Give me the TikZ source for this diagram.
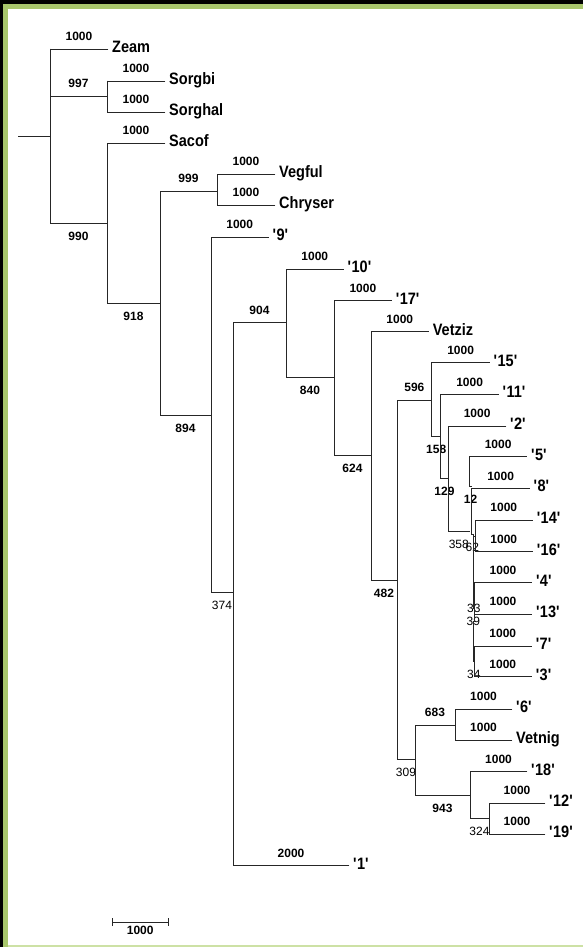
\documentclass[tikz,border=0pt]{standalone}
\usepackage{fontspec}
\usetikzlibrary{arrows.meta}
\newfontfamily\leaffont{Liberation Sans}[FakeStretch=0.88]
\newfontfamily\numfont{Liberation Sans}
\newcommand\qname[1]{\textquotesingle#1\textquotesingle}
\definecolor{framegreen}{RGB}{168,198,108}
\definecolor{lightgreen}{RGB}{205,225,165}
\tikzset{
  br/.style={line width=0.9pt, draw=black!85, line cap=rect},
  leaf/.style={anchor=base west, inner sep=0pt, xshift=4pt, yshift=-3.5pt,
    font=\leaffont\bfseries\fontsize{16.5}{18}\selectfont},
  ab/.style={midway, anchor=base, inner sep=0pt, yshift=8.3pt,
    font=\numfont\bfseries\fontsize{12}{13}\selectfont},
  be/.style={midway, anchor=base, inner sep=0pt, yshift=-17pt,
    font=\numfont\bfseries\fontsize{12}{13}\selectfont},
  bel/.style={be, font=\numfont\fontsize{12}{13}\selectfont},
  abl/.style={ab, font=\numfont\fontsize{12}{13}\selectfont},
}
\begin{document}
\begin{tikzpicture}[x=1pt,y=-1pt]
\useasboundingbox (0,0) rectangle (583,947);
% frame
\fill[white] (0,0) rectangle (583,947);
\fill[black] (0,0) rectangle (583,4);
\fill[black] (0,0) rectangle (3,947);
\fill[framegreen] (3,4) rectangle (583,9);
\fill[framegreen] (3,4) rectangle (8,947);
\fill[lightgreen] (8,945) rectangle (583,947);

% internal nodes (x of node, y of incoming branch)
\coordinate (root) at (18,136);
\coordinate (R) at (50,136);
\coordinate (S) at (107,96);
\coordinate (A990) at (107,223);
\coordinate (A918) at (160,303);
\coordinate (A999) at (217,191);
\coordinate (A894) at (211,415);
\coordinate (A374) at (233,592.7);
\coordinate (A904) at (286,322.7);
\coordinate (A840) at (334,377.7);
\coordinate (A624) at (371,455);
\coordinate (A482) at (397,580);
\coordinate (A596) at (431.7,400);
\coordinate (A158) at (440.7,436);
\coordinate (A129) at (448.3,478.3);
\coordinate (AC) at (469.3,531.7);
\coordinate (AD) at (471.7,486);
\coordinate (AE) at (473,534);
\coordinate (AF) at (475,536);
\coordinate (AG) at (473.5,608);
\coordinate (AH) at (474.2,621);
\coordinate (AI) at (474,661);
\coordinate (A309) at (415,759.3);
\coordinate (A683) at (455,725);
\coordinate (A943) at (470,795);
\coordinate (A324) at (489,818);

% leaf ends
\coordinate (lZeam) at (108,49);
\coordinate (lSorgbi) at (165,81);
\coordinate (lSorghal) at (165,112);
\coordinate (lSacof) at (165,143);
\coordinate (lVegful) at (275,174);
\coordinate (lChryser) at (275,205);
\coordinate (l9) at (268.5,237);
\coordinate (l10) at (343.5,269);
\coordinate (l17) at (391.7,300.7);
\coordinate (lVetziz) at (428.6,331.7);
\coordinate (l15) at (489.5,362.7);
\coordinate (l11) at (498.5,394.3);
\coordinate (l2) at (506,426);
\coordinate (l5) at (526.9,456.7);
\coordinate (l8) at (529.5,488.3);
\coordinate (l14) at (532.6,520);
\coordinate (l16) at (532.6,551.7);
\coordinate (l4) at (531.8,582.7);
\coordinate (l13) at (531.8,614);
\coordinate (l7) at (531.6,646);
\coordinate (l3) at (531.6,676.7);
\coordinate (l6) at (512,709);
\coordinate (lVetnig) at (512,740);
\coordinate (l18) at (527,771.7);
\coordinate (l12) at (545,803);
\coordinate (l19) at (545,834);
\coordinate (l1) at (349,865.7);

% root
\draw[br] (root) -- (R);
\draw[br] (R|-lZeam) -- (R|-A990);
\draw[br] (R|-lZeam) -- node[ab]{1000} (lZeam);
\draw[br] (R|-S) -- node[ab]{997} (S);
\draw[br] (R|-A990) -- node[be]{990} (A990);
% Sorghum
\draw[br] (S|-lSorgbi) -- (S|-lSorghal);
\draw[br] (S|-lSorgbi) -- node[ab]{1000} (lSorgbi);
\draw[br] (S|-lSorghal) -- node[ab]{1000} (lSorghal);
% 990
\draw[br] (A990|-lSacof) -- (A990|-A918);
\draw[br] (A990|-lSacof) -- node[ab]{1000} (lSacof);
\draw[br] (A990|-A918) -- node[be]{918} (A918);
% 918
\draw[br] (A918|-A999) -- (A918|-A894);
\draw[br] (A918|-A999) -- node[ab]{999} (A999);
\draw[br] (A918|-A894) -- node[be]{894} (A894);
% 999
\draw[br] (A999|-lVegful) -- (A999|-lChryser);
\draw[br] (A999|-lVegful) -- node[ab]{1000} (lVegful);
\draw[br] (A999|-lChryser) -- node[ab]{1000} (lChryser);
% 894
\draw[br] (A894|-l9) -- (A894|-A374);
\draw[br] (A894|-l9) -- node[ab]{1000} (l9);
\draw[br] (A894|-A374) -- node[bel]{374} (A374);
% 374
\draw[br] (A374|-A904) -- (A374|-l1);
\draw[br] (A374|-A904) -- node[ab]{904} (A904);
\draw[br] (A374|-l1) -- node[ab]{2000} (l1);
% 904
\draw[br] (A904|-l10) -- (A904|-A840);
\draw[br] (A904|-l10) -- node[ab]{1000} (l10);
\draw[br] (A904|-A840) -- node[be]{840} (A840);
% 840
\draw[br] (A840|-l17) -- (A840|-A624);
\draw[br] (A840|-l17) -- node[ab]{1000} (l17);
\draw[br] (A840|-A624) -- node[be]{624} (A624);
% 624
\draw[br] (A624|-lVetziz) -- (A624|-A482);
\draw[br] (A624|-lVetziz) -- node[ab]{1000} (lVetziz);
\draw[br] (A624|-A482) -- node[be]{482} (A482);
% 482
\draw[br] (A482|-A596) -- (A482|-A309);
\draw[br] (A482|-A596) -- node[ab]{596} (A596);
\draw[br] (A482|-A309) -- node[bel]{309} (A309);
% 596
\draw[br] (A596|-l15) -- (A596|-A158);
\draw[br] (A596|-l15) -- node[ab]{1000} (l15);
\draw[br] (A596|-A158) -- node[be]{158} (A158);
% 158
\draw[br] (A158|-l11) -- (A158|-A129);
\draw[br] (A158|-l11) -- node[ab]{1000} (l11);
\draw[br] (A158|-A129) -- node[be]{129} (A129);
% 129
\draw[br] (A129|-l2) -- (A129|-AC);
\draw[br] (A129|-l2) -- node[ab]{1000} (l2);
\draw[br] (A129|-AC) -- node[bel]{358} (AC);
% C
\draw[br] (AC|-l5) -- (AC|-AD);
\draw[br] (AC|-l5) -- node[ab]{1000} (l5);
\draw[br] (AC|-AD) -- node[be]{12} (AD);
% D
\draw[br] (AD|-l8) -- (AD|-AE);
\draw[br] (AD|-l8) -- node[ab]{1000} (l8);
\draw[br] (AD|-AE) -- node[bel]{62} (AE);
% E
\draw[br] (AE) -- (AE|-AG);
\draw[br] (AE|-AF) -- (AF);
\draw[br] (AE|-AG) -- node[bel]{39} (AG);
% F
\draw[br] (AF|-l14) -- (AF|-l16);
\draw[br] (AF|-l14) -- node[ab]{1000} (l14);
\draw[br] (AF|-l16) -- node[ab]{1000} (l16);
% G
\draw[br] (AG|-AH) -- (AG|-AI);
\draw[br] (AG|-AH) -- node[abl]{33} (AH);
\draw[br] (AG|-AI) -- node[bel]{34} (AI);
% H
\draw[br] (AH|-l4) -- (AH);
\draw[br] (AH|-l4) -- node[ab]{1000} (l4);
\draw[br] (AH|-l13) -- node[ab]{1000} (l13);
% I
\draw[br] (AI|-l7) -- (AI|-l3);
\draw[br] (AI|-l7) -- node[ab]{1000} (l7);
\draw[br] (AI|-l3) -- node[ab]{1000} (l3);
% 309
\draw[br] (A309|-A683) -- (A309|-A943);
\draw[br] (A309|-A683) -- node[ab]{683} (A683);
\draw[br] (A309|-A943) -- node[be]{943} (A943);
% 683
\draw[br] (A683|-l6) -- (A683|-lVetnig);
\draw[br] (A683|-l6) -- node[ab]{1000} (l6);
\draw[br] (A683|-lVetnig) -- node[ab]{1000} (lVetnig);
% 943
\draw[br] (A943|-l18) -- (A943|-A324);
\draw[br] (A943|-l18) -- node[ab]{1000} (l18);
\draw[br] (A943|-A324) -- node[bel]{324} (A324);
% 324
\draw[br] (A324|-l12) -- (A324|-l19);
\draw[br] (A324|-l12) -- node[ab]{1000} (l12);
\draw[br] (A324|-l19) -- node[ab]{1000} (l19);

% leaf names
\node[leaf] (tZeam) at (lZeam) {Zeam};
\node[leaf] (tSorgbi) at (lSorgbi) {Sorgbi};
\node[leaf] (tSorghal) at (lSorghal) {Sorghal};
\node[leaf] (tSacof) at (lSacof) {Sacof};
\node[leaf] (tVegful) at (lVegful) {Vegful};
\node[leaf] (tChryser) at (lChryser) {Chryser};
\node[leaf] (t9) at (l9) {\qname{9}};
\node[leaf] (t10) at (l10) {\qname{10}};
\node[leaf] (t17) at (l17) {\qname{17}};
\node[leaf] (tVetziz) at (lVetziz) {Vetziz};
\node[leaf] (t15) at (l15) {\qname{15}};
\node[leaf] (t11) at (l11) {\qname{11}};
\node[leaf] (t2) at (l2) {\qname{2}};
\node[leaf] (t5) at (l5) {\qname{5}};
\node[leaf] (t8) at (l8) {\qname{8}};
\node[leaf] (t14) at (l14) {\qname{14}};
\node[leaf] (t16) at (l16) {\qname{16}};
\node[leaf] (t4) at (l4) {\qname{4}};
\node[leaf] (t13) at (l13) {\qname{13}};
\node[leaf] (t7) at (l7) {\qname{7}};
\node[leaf] (t3) at (l3) {\qname{3}};
\node[leaf] (t6) at (l6) {\qname{6}};
\node[leaf] (tVetnig) at (lVetnig) {Vetnig};
\node[leaf] (t18) at (l18) {\qname{18}};
\node[leaf] (t12) at (l12) {\qname{12}};
\node[leaf] (t19) at (l19) {\qname{19}};
\node[leaf] (t1) at (l1) {\qname{1}};

% scale bar
\coordinate (sbA) at (111.5,922);
\coordinate (sbB) at (169,922);
\draw[br, line cap=butt, {Bar[width=8pt]}-{Bar[width=8pt]}] (sbA) -- node[be, yshift=5pt]{1000} (sbB);
\end{tikzpicture}
\end{document}
